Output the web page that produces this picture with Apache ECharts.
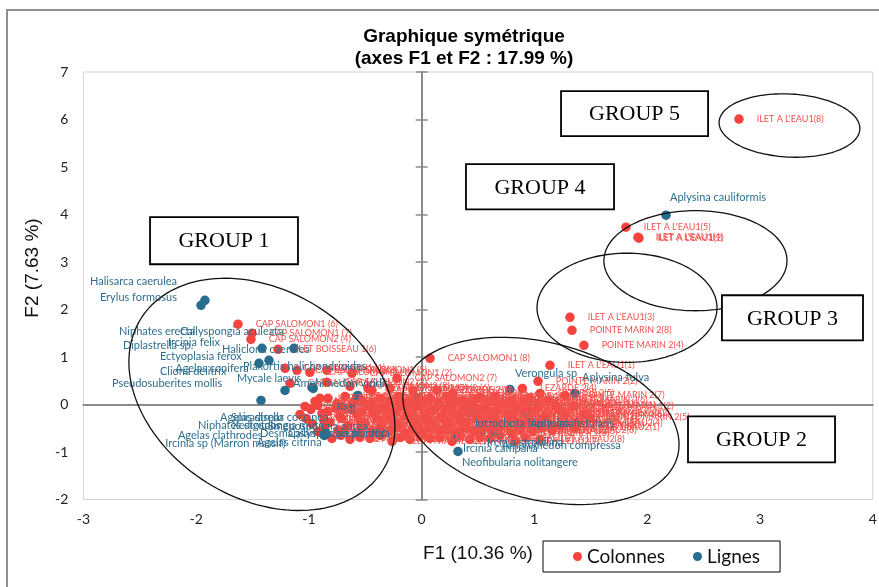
<!DOCTYPE html>
<html><head><meta charset="utf-8">
<script src="https://cdn.jsdelivr.net/npm/echarts@6/dist/echarts.min.js"></script>
<style>html,body{margin:0;padding:0;background:#fff}#c{width:879px;height:587px}</style>
</head><body><div id="c"></div>
<script>
// ---- Tick values ----
const xTicks = [-3, -2, -1, 0, 1, 2, 3, 4];
const yTicks = [-2, -1, 0, 1, 2, 3, 4, 5, 6, 7];

// ---- Colonnes (sites x dates) ----
const colLabels = [
"ILET A L'EAU1(8)","ILET A L'EAU1(5)","ILET A L'EAU1(4)","ILET A L'EAU1(2)","ILET A L'EAU1(3)",
"POINTE MARIN 2(8)","POINTE MARIN 2(4)","CAP SALOMON1 (8)","ILET A L'EAU1(1)","POINTE MARIN 2(2)",
"CAP SALOMON1 (6)","CAP SALOMON1 (7)","CAP SALOMON2 (4)","ILET BOISSEAU 1(6)","LEZARDE 2(4)",
"POINTE MARIN 2(7)","POINTE MARIN 2(6)","POINTE MARIN 2(1)","POINTE MARIN 2(3)","POINTE MARIN 2(5)",
"ILET A L'EAU2(1)","CAP SALOMON1 (2)","PETITE SIRENE 2 (5)","PETITE SIRENE 1 (3)",
"CAP SALOMON1 (1)","CAP SALOMON1 (3)","CAP SALOMON1 (4)","CAP SALOMON1 (5)","CAP SALOMON2 (1)",
"CAP SALOMON2 (2)","CAP SALOMON2 (3)","CAP SALOMON2 (5)","CAP SALOMON2 (6)","CAP SALOMON2 (7)",
"CAP SALOMON2 (8)","LEZARDE 2(1)","LEZARDE 2(2)","LEZARDE 2(3)","LEZARDE 2(5)",
"ILET BOISSEAU 1(1)","ILET BOISSEAU 1(2)",
"ILET BOISSEAU 1(3)","ILET BOISSEAU 1(4)","ILET BOISSEAU 1(5)","ILET BOISSEAU 1(7)","ILET BOISSEAU 1(8)",
"PETITE SIRENE 2 (1)","PETITE SIRENE 2 (2)","LEZARDE 2(6)","LEZARDE 2(7)","LEZARDE 2(8)",
"LEZARDE 1(1)","LEZARDE 1(2)","LEZARDE 1(3)",
"PETITE SIRENE 2 (3)","PETITE SIRENE 2 (4)","PETITE SIRENE 2 (6)","PETITE SIRENE 2 (7)","PETITE SIRENE 2 (8)",
"PETITE SIRENE 1 (1)","PETITE SIRENE 1 (2)","PETITE SIRENE 1 (4)","ILET BOISSEAU 2(1)","ILET BOISSEAU 2(2)",
"LEZARDE 1(4)","LEZARDE 1(5)","LEZARDE 1(6)","LEZARDE 1(7)","LEZARDE 1(8)","POINTE MARIN 1(1)","POINTE MARIN 1(2)",
"PETITE SIRENE 1 (5)","PETITE SIRENE 1 (6)","PETITE SIRENE 1 (7)","PETITE SIRENE 1 (8)","ILET BOISSEAU 2(3)",
"ILET BOISSEAU 2(4)","ILET BOISSEAU 2(5)","ILET BOISSEAU 2(6)","ILET BOISSEAU 2(7)","ANSE DUFOUR 1(1)",
"ANSE DUFOUR 1(2)","ANSE DUFOUR 1(3)","POINTE MARIN 1(3)","POINTE MARIN 1(4)","POINTE MARIN 1(5)",
"POINTE MARIN 1(6)","ILET A L'EAU2(2)",
"ILET BOISSEAU 2(8)","ANSE DUFOUR 2(1)","ANSE DUFOUR 2(2)","ANSE DUFOUR 2(3)","ANSE DUFOUR 1(4)",
"ANSE DUFOUR 1(5)","ANSE DUFOUR 1(6)","ANSE DUFOUR 1(7)","ANSE DUFOUR 1(8)","ILET A RAMIER 1(1)",
"ILET A RAMIER 1(2)","ILET A RAMIER 1(3)","POINTE MARIN 1(7)","POINTE MARIN 1(8)","ILET A L'EAU2(3)","ILET A L'EAU2(4)",
"ANSE DUFOUR 2(4)","ANSE DUFOUR 2(5)","ANSE DUFOUR 2(6)","ANSE DUFOUR 2(7)","ANSE DUFOUR 2(8)",
"ILET A RAMIER 2(1)","ILET A RAMIER 2(2)","ILET A RAMIER 1(4)","ILET A RAMIER 1(5)","ILET A RAMIER 1(6)",
"ILET A RAMIER 1(7)","ILET A RAMIER 1(8)","ILET A L'EAU2(5)","ILET A L'EAU2(6)",
"ILET A RAMIER 2(3)","ILET A RAMIER 2(4)","ILET A RAMIER 2(5)","ILET A RAMIER 2(6)","ILET A RAMIER 2(7)",
"ILET A RAMIER 2(8)","ILET A L'EAU1(6)","ILET A L'EAU1(7)","ILET A L'EAU2(7)","ILET A L'EAU2(8)",
"ANSE NOIRE 1(1)","ANSE NOIRE 1(2)","ANSE NOIRE 1(3)","ANSE NOIRE 1(4)","ANSE NOIRE 1(5)","ANSE NOIRE 1(6)","ANSE NOIRE 1(7)",
"ANSE NOIRE 1(8)","ANSE NOIRE 2(1)","ANSE NOIRE 2(2)","ANSE NOIRE 2(3)","ANSE NOIRE 2(4)","ANSE NOIRE 2(5)",
"ANSE NOIRE 2(6)","ANSE NOIRE 2(7)","ANSE NOIRE 2(8)","GRANDE ANSE 1(1)","GRANDE ANSE 1(2)","GRANDE ANSE 1(3)","GRANDE ANSE 1(4)",
"GRANDE ANSE 1(5)","GRANDE ANSE 1(6)","GRANDE ANSE 1(7)","GRANDE ANSE 1(8)","GRANDE ANSE 2(1)","GRANDE ANSE 2(2)","GRANDE ANSE 2(3)",
"GRANDE ANSE 2(4)","GRANDE ANSE 2(5)","GRANDE ANSE 2(6)","GRANDE ANSE 2(7)","GRANDE ANSE 2(8)","FOND BOUCHER 1(1)","FOND BOUCHER 1(2)",
"FOND BOUCHER 1(3)","FOND BOUCHER 1(4)","FOND BOUCHER 1(5)","FOND BOUCHER 1(6)","FOND BOUCHER 1(7)","FOND BOUCHER 1(8)","FOND BOUCHER 2(1)",
"FOND BOUCHER 2(2)","FOND BOUCHER 2(3)","FOND BOUCHER 2(4)","FOND BOUCHER 2(5)","FOND BOUCHER 2(6)","FOND BOUCHER 2(7)","FOND BOUCHER 2(8)",
"ANSE A L'ANE 1(1)","ANSE A L'ANE 1(2)","ANSE A L'ANE 1(3)","ANSE A L'ANE 1(4)","ANSE A L'ANE 1(5)","ANSE A L'ANE 1(6)","ANSE A L'ANE 1(7)",
"ANSE A L'ANE 1(8)","ANSE A L'ANE 2(1)","ANSE A L'ANE 2(2)"
];
const colX = [
2.814,1.812,1.918,1.927,1.315, 1.333,1.439,0.074,1.138,1.032,
-1.629,-1.505,-1.514,-1.274,0.893, 1.271,1.121,1.032,1.227,1.493,
1.360,-0.618,-0.476,-0.796,
-1.211,-1.106,-0.991,-0.840,-1.168, -0.840,-0.636,-0.441,-0.281,-0.219,
-0.077,0.136,0.278,0.517,1.049, -0.902,-0.574,
-0.831,-0.680,-0.529,-0.370,-0.210, -0.086,0.074,0.224,0.357,0.499, 0.650,0.801,0.960,
-1.035,-0.920,-0.760,-0.618,-0.476, -0.325,-0.192,-0.042,0.100,0.251,
0.393,0.553,0.694,0.854,1.023,1.191,1.351,
-1.079,-0.884,-0.725,-0.574,-0.432, -0.281,-0.122,0.029,0.171,0.322,
0.473,0.615,0.765,0.925,1.093, 1.271,1.449,
-0.973,-0.813,-0.654,-0.503,-0.352, -0.210,-0.059,0.091,0.233,0.393,
0.544,0.694,0.872,1.049,1.227,1.387,
-0.920,-0.742,-0.583,-0.441,-0.281, -0.148,0.012,0.162,0.313,0.464,
0.624,0.801,0.987,1.156,
-0.636,-0.459,-0.263,-0.104,0.074, 0.269,0.428,0.606,0.827,1.049,
-0.946,-0.751,-0.600,-0.450,-0.290,-0.139,0.003,0.153,0.295,0.437,0.597,0.748,0.908,
-0.982,-0.831,-0.671,-0.530,-0.388,-0.246,-0.086,0.074,0.215,0.366,0.517,0.668,0.828,0.978,
-1.026,-0.867,-0.707,-0.547,-0.397,-0.255,-0.104,0.047,0.198,0.340,0.499,0.641,0.801,0.960,
-0.858,-0.680,-0.530,-0.370,-0.219,-0.077,0.074,0.224,0.384,0.535,0.694,0.872,1.067,
-0.716,-0.547,-0.370,-0.192,-0.015,0.162,0.340,0.517,0.694,0.916
];
const colY = [
6.010,3.733,3.522,3.501,1.836, 1.562,1.246,0.973,0.824,0.487,
1.691,1.499,1.372,1.161,0.339, 0.192,0.086,0.023,-0.124,-0.272,
-0.483,0.656,0.339,-0.715,
0.761,0.719,0.677,0.719,0.445, 0.466,0.382,0.297,0.340,0.551,
0.297,0.297,0.234,0.150,0.234, 0.129,0.150,
0.129,0.171,0.086,0.129,0.171, 0.086,0.129,0.171,0.086,0.129, 0.171,0.086,0.129,
-0.040,-0.019,-0.082,-0.019,-0.040, -0.082,-0.019,-0.040,-0.082,-0.019,
-0.040,-0.082,-0.019,-0.040,-0.082,-0.019,-0.040,
-0.209,-0.188,-0.251,-0.209,-0.188, -0.251,-0.209,-0.188,-0.251,-0.209,
-0.188,-0.251,-0.209,-0.188,-0.251, -0.209,-0.188,
-0.399,-0.378,-0.441,-0.399,-0.378, -0.441,-0.399,-0.378,-0.441,-0.399,
-0.378,-0.441,-0.399,-0.378,-0.441,-0.399,
-0.567,-0.546,-0.609,-0.567,-0.546, -0.609,-0.567,-0.546,-0.609,-0.567,
-0.546,-0.609,-0.567,-0.546,
-0.736,-0.715,-0.778,-0.736,-0.715, -0.778,-0.736,-0.715,-0.778,-0.736,
0.065,0.023,0.065,0.023,0.065,0.023,0.065,0.023,0.065,0.023,0.065,0.023,0.065,
-0.103,-0.145,-0.103,-0.145,-0.103,-0.145,-0.103,-0.145,-0.103,-0.145,-0.103,-0.145,-0.103,-0.145,
-0.293,-0.335,-0.293,-0.335,-0.293,-0.335,-0.293,-0.335,-0.293,-0.335,-0.293,-0.335,-0.293,-0.335,
-0.483,-0.525,-0.483,-0.525,-0.483,-0.525,-0.483,-0.525,-0.483,-0.525,-0.483,-0.525,-0.483,
-0.651,-0.694,-0.651,-0.694,-0.651,-0.694,-0.651,-0.694,-0.651,-0.694
];

// ---- Lignes (species) ----
const rowLabels = [
"Aplysina cauliformis","Halisarca caerulea","Erylus formosus","Niphates erecta","Callyspongia aculeata",
"Diplastrella sp.","Ircinia felix","Ectyoplasia ferox","Haliclona caerulea","Pseudosuberites mollis",
"Cliona delitrix","Plakortis halichondrioides","Mycale laevis","Amphimedon viridis","Agelas conifera",
"Agelas dispar","Spirastrella coccinea","Niphates digitalis","Xestospongia muta","Smenospongia aurea",
"Agelas clathrodes","Desmapsamma anchorata","Callyspongia plicifera","Ircinia sp (Marron massif)","Agelas citrina",
"Verongula sp","Aplysina fulva","Iotrochota birotulata","Aplysina fistularis","Ircinia strobilina",
"Amphimedon compressa","Ircinia campana","Neofibularia nolitangere"
];
const rowX = [
2.167,-1.957,-1.922,-1.416,-1.133, -1.443,-1.354,-1.212,-0.973,-1.425,
-0.716,-0.565,-0.618,-0.033,-0.962, -0.707,-0.627,-0.849,-0.574,-0.361,
-0.858,-0.379,-0.370,-0.864,-0.352, 0.783,1.360,0.446,0.917,0.535,
0.650,0.296,0.322
];
const rowY = [
3.985,2.089,2.194,1.183,1.183, 0.866,0.930,0.297,0.360,0.086,
-0.040,0.192,-0.082,0.129,0.339, -0.040,-0.103,-0.609,0.171,-0.588,
-0.630,-0.567,-0.609,-0.651,-0.630, 0.318,0.234,-0.167,-0.167,-0.546,
-0.588,-0.694,-0.989
];

// ---- label placement for the species labels (pixel nudges, style only) ----
const rowLabelPlace = [
[4,-18,'left'],[-24,-24,'right'],[-28,-3,'right'],[-143,-17],[-114,-17],
[-136,-18],[-101,-18],[-125,-34],[-90,-38],[-149,-17],
[-181,-35],[-115,-29],[-115,-30],[-125,-15],[-138,-20],
[-122,11],[-120,8],[-128,-8],[-125,29],[-113,-6],
[-147,1],[-119,2],[-92,0],[-159,8],[-125,8],
[5,-16],[7,-16],[3,11],[5,11],[5,12],
[7,13],[8,11],[4,11]
];

// ---- annotation shapes (data space) ----
const groupEllipses = [ // cx, cy, semi-axis (x units), semi-axis (y units), rotation deg
[-1.417, 0.213, 1.266, 2.188, 32],
[1.058, -0.346, 1.251, 1.653, 14.2],
[1.821, 2.036, 0.798, 1.149, 0],
[2.428, 3.028, 0.812, 1.054, 0],
[3.262, 5.873, 0.625, 0.664, 3]
];
const groupNames = ["GROUP 1","GROUP 2","GROUP 3","GROUP 4","GROUP 5"];
const groupBoxes = [ // x0, yTop, x1, yBottom
[-2.409, 3.944, -1.097, 2.953],
[2.362, -0.251, 3.666, -1.220],
[2.663, 2.300, 3.914, 1.351],
[0.393, 5.059, 1.706, 4.110],
[1.236, 6.598, 2.540, 5.650]
];

const RED = '#F5443F', RED_TXT = '#F2504B', BLUE = '#286D8E', BLUE_TXT = '#2E6F8F';
const AXIS_GRAY = '#8a8a8a';

const chart = echarts.init(document.getElementById('c'), null, {renderer: 'canvas'});

const colData = colX.map((x, i) => ({ name: colLabels[i], value: [x, colY[i]] }));
const rowData = rowX.map((x, i) => ({
  name: rowLabels[i], value: [x, rowY[i]],
  label: { offset: [rowLabelPlace[i][0], rowLabelPlace[i][1]], align: rowLabelPlace[i][2] || 'left' }
}));

const baseAxis = (extra) => Object.assign({
  type: 'value', splitLine: { show: false }, axisTick: { show: false }
}, extra);

chart.setOption({
  animation: false,
  backgroundColor: '#fff',
  grid: { left: 83.4, right: 6.3, top: 72, bottom: 87.5, show: true, borderColor: '#d3d3d3', borderWidth: 1, outerBoundsMode: 'none', containLabel: false },
  xAxis: [
    baseAxis({ min: xTicks[0], max: xTicks[xTicks.length - 1], interval: 1,
      axisLine: { show: false, onZero: false },
      axisLabel: { margin: 13, fontSize: 14, color: '#222', fontFamily: 'Lato' } }),
    baseAxis({ min: xTicks[0], max: xTicks[xTicks.length - 1], interval: 1, position: 'bottom',
      axisLine: { show: true, onZero: true, onZeroAxisIndex: 0, lineStyle: { color: AXIS_GRAY, width: 1.8 } },
      axisLabel: { show: false } })
  ],
  yAxis: [
    baseAxis({ min: yTicks[0], max: yTicks[yTicks.length - 1], interval: 1,
      axisLine: { show: false, onZero: false },
      axisLabel: { margin: 15, fontSize: 14, color: '#222', fontFamily: 'Lato' } }),
    baseAxis({ min: yTicks[0], max: yTicks[yTicks.length - 1], interval: 1, position: 'left',
      axisLine: { show: true, onZero: true, onZeroAxisIndex: 0, lineStyle: { color: AXIS_GRAY, width: 1.8 } },
      axisTick: { show: true, length: 6, lineStyle: { color: AXIS_GRAY, width: 1.5 } },
      axisLabel: { show: false } }),
    baseAxis({ min: yTicks[0], max: yTicks[yTicks.length - 1], interval: 1, position: 'right',
      axisLine: { show: true, onZero: true, onZeroAxisIndex: 0, lineStyle: { color: AXIS_GRAY, width: 1.8 } },
      axisTick: { show: true, length: 6, lineStyle: { color: AXIS_GRAY, width: 1.5 } },
      axisLabel: { show: false } })
  ],
  legend: {
    data: ['Colonnes', 'Lignes'], left: 543, top: 541, orient: 'horizontal',
    icon: 'circle', itemWidth: 9, itemHeight: 9, itemGap: 28,
    padding: [6, 20, 6, 30], borderColor: '#000', borderWidth: 1, backgroundColor: '#fff',
    textStyle: { fontSize: 19, fontFamily: 'Lato', color: '#111' }
  },
  graphic: [
    { type: 'rect', z: -10, shape: { x: 7, y: 10, width: 900, height: 600 }, style: { fill: 'none', stroke: '#8f8f8f', lineWidth: 2 } },
    { type: 'text', x: 464, y: 37, style: { text: 'Graphique symétrique', font: 'bold 19px "Liberation Sans"', fill: '#000', align: 'center', verticalAlign: 'middle', textAlign: 'center', textVerticalAlign: 'middle' } },
    { type: 'text', x: 464, y: 59, style: { text: '(axes F1 et F2 : 17.99 %)', font: 'bold 19px "Liberation Sans"', fill: '#000', align: 'center', verticalAlign: 'middle', textAlign: 'center', textVerticalAlign: 'middle' } },
    { type: 'text', x: 478, y: 554, style: { text: 'F1 (10.36 %)', font: '19px "Liberation Sans"', fill: '#111', align: 'center', verticalAlign: 'middle', textAlign: 'center', textVerticalAlign: 'middle' } },
    { type: 'text', x: 33, y: 268, rotation: Math.PI / 2, style: { text: 'F2 (7.63 %)', font: '19px "Liberation Sans"', fill: '#111', align: 'center', verticalAlign: 'middle', textAlign: 'center', textVerticalAlign: 'middle' } }
  ],
  series: [
    {
      name: 'Colonnes', type: 'scatter', symbol: 'circle', symbolSize: 9.5, z: 3,
      itemStyle: { color: RED, opacity: 1 },
      label: { show: true, position: 'right', distance: 13, formatter: '{b}', color: RED_TXT, fontSize: 9, fontFamily: 'Lato' },
      emphasis: { disabled: true },
      data: colData
    },
    {
      name: 'Lignes', type: 'scatter', symbol: 'circle', symbolSize: 9.5, z: 3,
      itemStyle: { color: BLUE, opacity: 1 },
      label: { show: true, position: 'inside', align: 'left', verticalAlign: 'middle', formatter: '{b}', color: BLUE_TXT, fontSize: 11, fontFamily: 'Lato' },
      emphasis: { disabled: true },
      data: rowData
    },
    {
      name: 'ellipses', type: 'custom', z: 6, silent: true, clip: false,
      data: groupEllipses,
      renderItem: function (params, api) {
        const c = api.coord([api.value(0), api.value(1)]);
        const s = api.size([api.value(2), api.value(3)]);
        const rot = api.value(4) * Math.PI / 180;
        const pts = [];
        for (let i = 0; i <= 144; i++) {
          const t = i / 144 * Math.PI * 2;
          const ex = s[0] * Math.cos(t), ey = s[1] * Math.sin(t);
          pts.push([c[0] + ex * Math.cos(rot) - ey * Math.sin(rot), c[1] + ex * Math.sin(rot) + ey * Math.cos(rot)]);
        }
        return { type: 'polyline', shape: { points: pts }, style: { fill: null, stroke: '#111', lineWidth: 1.3 } };
      }
    },
    {
      name: 'groups', type: 'custom', z: 7, silent: true, clip: false,
      data: groupBoxes,
      renderItem: function (params, api) {
        const p0 = api.coord([api.value(0), api.value(1)]);
        const p1 = api.coord([api.value(2), api.value(3)]);
        const name = groupNames[params.dataIndex];
        return {
          type: 'group', children: [
            { type: 'rect', shape: { x: p0[0], y: p0[1], width: p1[0] - p0[0], height: p1[1] - p0[1] }, style: { fill: '#fff', stroke: '#000', lineWidth: 1.8 } },
            { type: 'text', style: { text: name, x: (p0[0] + p1[0]) / 2, y: (p0[1] + p1[1]) / 2 + 1, font: '22px "Liberation Serif"', fill: '#000', align: 'center', verticalAlign: 'middle', textAlign: 'center', textVerticalAlign: 'middle' } }
          ]
        };
      }
    }
  ]
});
</script></body></html>
